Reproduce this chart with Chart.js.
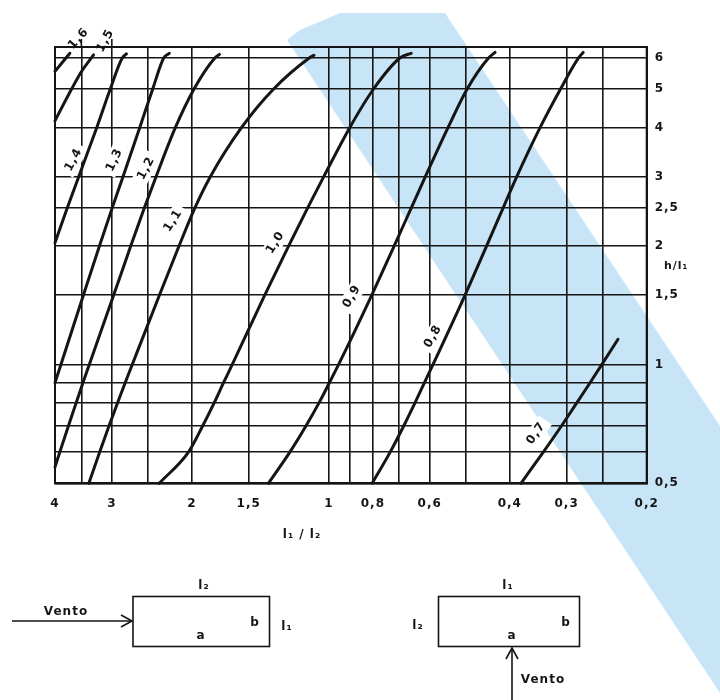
<!DOCTYPE html>
<html>
<head>
<meta charset="utf-8">
<title>Coeficiente de forma externo</title>
<script src="https://cdn.jsdelivr.net/npm/chart.js@4/dist/chart.umd.min.js"></script>
<style>
  html, body { margin: 0; padding: 0; background: #fff; }
  #wrap { width: 720px; height: 700px; position: relative; }
</style>
</head>
<body>
<div id="wrap"><canvas id="chart"></canvas></div>
<script>
// Coefficient curves: l1/l2 (ratio) against h/l1 (height)
const curveLabels = ['1,6', '1,5', '1,4', '1,3', '1,2', '1,1', '1,0', '0,9', '0,8', '0,7'];

const ratio16  = [4, 3.71];
const height16 = [5.55, 6.17];

const ratio15  = [4, 3.68, 3.5, 3.29];
const height15 = [4.16, 5, 5.54, 6.11];

const ratio14  = [4, 3.758, 3.547, 3.237, 3.025, 2.846, 2.786];
const height14 = [2.04, 2.5, 3, 4, 5, 6, 6.15];

const ratio13  = [4, 3.883, 3.465, 3.194, 2.994, 2.835, 2.604, 2.44, 2.307, 2.243];
const height13 = [0.9, 1, 1.5, 2, 2.5, 3, 4, 5, 6, 6.17];

const ratio12  = [4, 3.904, 3.736, 3.594, 3.472, 3.363, 2.973, 2.726, 2.544, 2.398, 2.174, 1.98, 1.781, 1.74];
const height12 = [0.55, 0.6, 0.7, 0.8, 0.9, 1, 1.5, 2, 2.5, 3, 4, 5, 6, 6.13];

const ratio11  = [3.37, 3.19, 3.042, 2.914, 2.804, 2.706, 2.358, 2.135, 1.97, 1.822, 1.555, 1.324, 1.104, 1.078];
const height11 = [0.5, 0.6, 0.7, 0.8, 0.9, 1, 1.5, 2, 2.5, 3, 4, 5, 6, 6.1];

const ratio10  = [2.36, 2.035, 1.893, 1.787, 1.704, 1.631, 1.384, 1.226, 1.113, 1.026, 0.899, 0.798, 0.698, 0.659];
const height10 = [0.5, 0.6, 0.7, 0.8, 0.9, 1, 1.5, 2, 2.5, 3, 4, 5, 6, 6.17];

const ratio09  = [1.358, 1.218, 1.122, 1.051, 0.997, 0.952, 0.805, 0.7185, 0.6586, 0.6134, 0.5466, 0.4967, 0.4455, 0.4309];
const height09 = [0.5, 0.6, 0.7, 0.8, 0.9, 1, 1.5, 2, 2.5, 3, 4, 5, 6, 6.2];

const ratio08  = [0.803, 0.733, 0.684, 0.6465, 0.6162, 0.5903, 0.502, 0.45, 0.4137, 0.3861, 0.343, 0.3096, 0.2827, 0.2759];
const height08 = [0.5, 0.6, 0.7, 0.8, 0.9, 1, 1.5, 2, 2.5, 3, 4, 5, 6, 6.2];

const ratio07  = [0.378, 0.3376, 0.3077, 0.285, 0.2664, 0.2511, 0.2313];
const height07 = [0.5, 0.6, 0.7, 0.8, 0.9, 1, 1.16];

const ratioSeries  = [ratio16, ratio15, ratio14, ratio13, ratio12, ratio11, ratio10, ratio09, ratio08, ratio07];
const heightSeries = [height16, height15, height14, height13, height12, height11, height10, height09, height08, height07];

// Axis ticks (grid lines) and the ones that carry a number
const ratioTicks     = [4, 3.5, 3, 2.5, 2, 1.5, 1, 0.9, 0.8, 0.7, 0.6, 0.5, 0.4, 0.3, 0.25, 0.2];
const ratioLabelled  = [4, 3, 2, 1.5, 1, 0.8, 0.6, 0.4, 0.3, 0.2];
const heightTicks    = [0.5, 0.6, 0.7, 0.8, 0.9, 1, 1.5, 2, 2.5, 3, 4, 5, 6];
const heightLabelled = [0.5, 1, 1.5, 2, 2.5, 3, 4, 5, 6];

// Where each curve's value is lettered, in axis units, and its slant
const labelRatio  = [3.55, 3.1, 3.64, 2.96, 2.52, 2.2, 1.31, 0.89, 0.59, 0.35];
const labelHeight = [6.72, 6.64, 3.31, 3.31, 3.15, 2.32, 2.04, 1.49, 1.18, 0.67];
const labelAngle  = [-48, -62, -62, -65, -62, -58, -58, -60, -60, -55];

const INK = '#151515';
const FAMILY = "'DejaVu Sans', 'Liberation Sans', sans-serif";
const LABEL_FONT = "bold 12px " + FAMILY;
const comma = v => String(v).replace('.', ',');

// Light blue highlight band laid over the sheet
const band = [[287, 40], [300, 30], [340, 13], [445, 13], [720, 426], [720, 693]];

function text(ctx, s, x, y, size, align) {
  ctx.font = 'bold ' + size + 'px ' + FAMILY;
  ctx.textAlign = align || 'center';
  ctx.textBaseline = 'middle';
  ctx.fillText(s, x, y);
}

function line(ctx, pts) {
  ctx.beginPath();
  pts.forEach(([px, py], i) => i ? ctx.lineTo(px, py) : ctx.moveTo(px, py));
  ctx.stroke();
}

const sheet = {
  id: 'sheet',
  beforeDraw(chart) {
    const ctx = chart.ctx;
    ctx.save();
    ctx.fillStyle = '#c8e5f8';
    ctx.beginPath();
    band.forEach(([px, py], i) => i ? ctx.lineTo(px, py) : ctx.moveTo(px, py));
    ctx.closePath();
    ctx.fill();
    ctx.restore();
    ctx.letterSpacing = '1px';
  },
  beforeDatasetsDraw(chart) {
    const { ctx, chartArea: a, scales: { x, y } } = chart;
    ctx.save();
    // open the grid where a value is lettered
    ctx.font = LABEL_FONT;
    ctx.fillStyle = '#fff';
    curveLabels.forEach((t, i) => {
      const px = x.getPixelForValue(labelRatio[i]);
      const py = y.getPixelForValue(labelHeight[i]);
      if (py < a.top) return;
      const w = ctx.measureText(t).width + 8;
      ctx.save();
      ctx.translate(px, py);
      ctx.rotate(labelAngle[i] * Math.PI / 180);
      ctx.fillRect(-w / 2, -8, w, 16);
      ctx.restore();
    });
    // leader lines above the frame for the two top values
    ctx.strokeStyle = INK;
    ctx.lineWidth = 1.6;
    [3.5, 3].forEach(v => {
      const px = x.getPixelForValue(v);
      line(ctx, [[px, a.top], [px, a.top - 8]]);
    });
    // frame
    ctx.lineWidth = 2;
    ctx.strokeRect(a.left, a.top, a.right - a.left, a.bottom - a.top);
    ctx.restore();
  },
  afterDatasetsDraw(chart) {
    const { ctx, scales: { x, y } } = chart;
    ctx.save();
    ctx.fillStyle = INK;
    ctx.font = LABEL_FONT;
    ctx.textAlign = 'center';
    ctx.textBaseline = 'middle';
    curveLabels.forEach((t, i) => {
      ctx.save();
      ctx.translate(x.getPixelForValue(labelRatio[i]), y.getPixelForValue(labelHeight[i]));
      ctx.rotate(labelAngle[i] * Math.PI / 180);
      ctx.fillText(t, 0, 0);
      ctx.restore();
    });
    ctx.restore();
  },
  afterDraw(chart) {
    const ctx = chart.ctx;
    ctx.save();
    ctx.fillStyle = INK;
    ctx.strokeStyle = INK;
    // axis names
    text(ctx, 'l\u2081 / l\u2082', 302, 535, 12);
    text(ctx, 'h/l\u2081', 664, 266, 11, 'left');

    // plan with wind on the long side
    ctx.lineWidth = 1.6;
    ctx.strokeRect(133, 596.5, 136.5, 50);
    line(ctx, [[12, 621], [132, 621]]);
    line(ctx, [[121, 615], [132, 621], [121, 627]]);
    text(ctx, 'Vento', 66, 612, 12);
    text(ctx, 'l\u2082', 204, 586, 12);
    text(ctx, 'a', 201, 636, 12);
    text(ctx, 'b', 255, 623, 12);
    text(ctx, 'l\u2081', 287, 627, 12);

    // plan with wind on the short side
    ctx.strokeRect(438.5, 596.5, 141, 50);
    line(ctx, [[512, 700], [512, 648]]);
    line(ctx, [[506, 659], [512, 648], [518, 659]]);
    text(ctx, 'Vento', 543, 680, 12);
    text(ctx, 'l\u2081', 508, 586, 12);
    text(ctx, 'l\u2082', 418, 626, 12);
    text(ctx, 'b', 566, 623, 12);
    text(ctx, 'a', 512, 636, 12);
    ctx.restore();
  }
};

const datasets = curveLabels.map((lab, i) => ({
  label: lab,
  data: ratioSeries[i].map((r, k) => ({ x: r, y: heightSeries[i][k] })),
  showLine: true,
  borderColor: INK,
  borderWidth: 3,
  pointRadius: 0,
  cubicInterpolationMode: 'monotone',
  borderCapStyle: 'round',
  borderJoinStyle: 'round',
  clip: false
}));

const tickFont = { family: FAMILY, size: 12, weight: 'bold' };

new Chart(document.getElementById('chart'), {
  type: 'scatter',
  data: { datasets },
  plugins: [sheet],
  options: {
    responsive: true,
    maintainAspectRatio: false,
    animation: false,
    events: [],
    layout: { padding: { left: 55, top: 47, right: 0, bottom: 0 } },
    plugins: { legend: { display: false }, tooltip: { enabled: false } },
    scales: {
      x: {
        type: 'logarithmic',
        min: 0.2,
        max: 4,
        reverse: true,
        position: 'bottom',
        afterBuildTicks: s => { s.ticks = ratioTicks.map(v => ({ value: v })); },
        afterFit: s => { s.height = 700 - 483.3; },
        ticks: {
          autoSkip: false,
          maxRotation: 0,
          padding: 13,
          color: INK,
          font: tickFont,
          callback: v => ratioLabelled.includes(v) ? comma(v) : ''
        },
        grid: { color: INK, lineWidth: 1.6, drawTicks: false },
        border: { color: INK, width: 2 }
      },
      y: {
        type: 'logarithmic',
        min: 0.5,
        max: 6.4,
        position: 'right',
        afterBuildTicks: s => { s.ticks = heightTicks.map(v => ({ value: v })); },
        afterFit: s => { s.width = 720 - 646.7; },
        ticks: {
          autoSkip: false,
          padding: 8,
          color: INK,
          font: tickFont,
          callback: v => heightLabelled.includes(v) ? comma(v) : ''
        },
        grid: { color: INK, lineWidth: 1.6, drawTicks: false },
        border: { color: INK, width: 2 }
      }
    }
  }
});
</script>
</body>
</html>
